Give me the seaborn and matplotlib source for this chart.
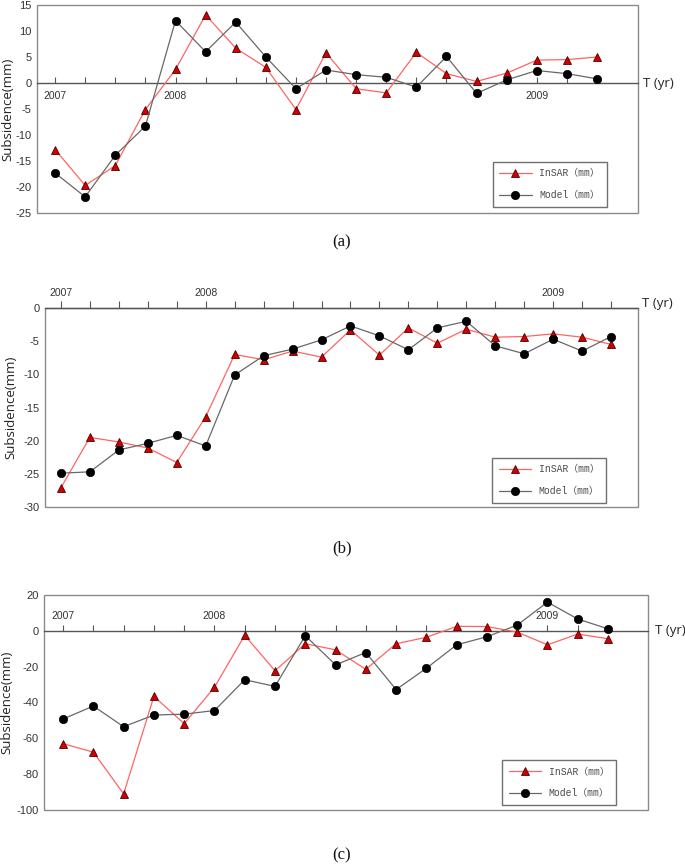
import numpy as np
import pandas as pd
import matplotlib
matplotlib.use("Agg")
import matplotlib.pyplot as plt
from matplotlib.patches import Rectangle
import seaborn as sns

# values, one entry per acquisition
insar_a = [-12.8, -19.7, -15.9, -5.1, 2.6, 13.1, 6.7, 3.0, -5.1, 5.8, -1.1, -1.9, 5.9, 1.8, 0.3, 1.9, 4.4, 4.5, 5.0]
model_a = [-17.3, -21.9, -13.9, -8.3, 12.0, 6.0, 11.7, 5.0, -1.1, 2.5, 1.6, 1.1, -0.8, 5.1, -2.0, 0.6, 2.4, 1.8, 0.8]
years_a = {0: "2007", 4: "2008", 16: "2009"}
yticks_a = [15, 10, 5, 0, -5, -10, -15, -20, -25]

insar_b = [-27.1, -19.5, -20.2, -21.1, -23.3, -16.4, -7.0, -7.8, -6.5, -7.4, -3.3, -7.1, -3.0, -5.3,
           -3.2, -4.4, -4.3, -3.9, -4.4, -5.5]
model_b = [-24.9, -24.7, -21.4, -20.4, -19.2, -20.8, -10.1, -7.2, -6.2, -4.8, -2.7, -4.2, -6.3, -3.0,
           -2.0, -5.7, -6.9, -4.7, -6.5, -4.3]
years_b = {0: "2007", 5: "2008", 17: "2009"}
yticks_b = [0, -5, -10, -15, -20, -25, -30]

insar_c = [-63.0, -67.7, -91.0, -36.6, -51.8, -31.5, -2.5, -22.3, -7.2, -10.6, -21.5, -7.2, -3.6,
           2.5, 2.4, -0.7, -7.8, -1.8, -4.4]
model_c = [-49.2, -42.0, -53.5, -47.0, -46.5, -44.5, -27.3, -31.0, -2.7, -19.0, -12.1, -32.8, -20.9,
           -7.8, -3.3, 3.2, 16.0, 6.6, 1.1]
years_c = {0: "2007", 5: "2008", 16: "2009"}
yticks_c = [20, 0, -20, -40, -60, -80, -100]

legend_labels = ["InSAR（mm）", "Model（mm）"]

sns.set_style("white")
plt.rcParams['font.family'] = ['Liberation Sans', 'DejaVu Sans']

fig = plt.figure(figsize=(6.85, 8.66), dpi=100)
W, H = 685, 866


def add_axes_px(left, top, right, bottom):
    return fig.add_axes([left / W, 1 - bottom / H, (right - left) / W, (bottom - top) / H])


def draw_panel(ax, insar, model, years, yticks, ylim, xlim, mode, leg_anchor, ylab_x, tyr_off):
    idx = np.arange(len(insar))
    df = pd.DataFrame({"t": idx, "insar": insar, "model": model})
    sns.lineplot(data=df, x="t", y="insar", ax=ax, color="#ff6464", linewidth=0.9,
                 marker="^", markersize=5.5, markerfacecolor="#d00000",
                 markeredgecolor="#500000", markeredgewidth=0.6, label=legend_labels[0], zorder=3)
    sns.lineplot(data=df, x="t", y="model", ax=ax, color="#686868", linewidth=0.9,
                 marker="o", markersize=6, markerfacecolor="black",
                 markeredgecolor="black", markeredgewidth=0.5, label=legend_labels[1], zorder=4)
    ax.set_xlim(xlim)
    ax.set_ylim(ylim)
    ax.set_yticks(yticks)
    ax.set_yticklabels([str(v) for v in yticks])
    ax.tick_params(axis="y", left=False, length=0, pad=4, labelsize=8, labelcolor="#333333")
    ax.set_xticks(idx)
    ax.set_xticklabels([years.get(i, "") for i in idx])
    ax.set_xlabel("")

    for s in ax.spines.values():
        s.set_visible(False)
    ax.add_patch(Rectangle((0, 0), 1, 1, transform=ax.transAxes, fill=False,
                           edgecolor="#8a8a8a", lw=1.0, clip_on=False, zorder=1))

    if mode == "a":
        sp = ax.spines["bottom"]
        sp.set_position(("data", 0))
        ax.tick_params(axis="x", bottom=True, top=False, labelbottom=True, labeltop=False,
                       direction="in", length=4, pad=6)
    elif mode == "b":
        sp = ax.spines["top"]
        ax.xaxis.tick_top()
        ax.tick_params(axis="x", top=True, bottom=False, labeltop=True, labelbottom=False,
                       direction="out", length=5, pad=2)
    else:
        sp = ax.spines["top"]
        sp.set_position(("data", 0))
        ax.xaxis.tick_top()
        ax.tick_params(axis="x", top=True, bottom=False, labeltop=True, labelbottom=False,
                       direction="out", length=4, pad=3)
    sp.set_visible(True)
    sp.set_color("#555555")
    sp.set_linewidth(1.0)
    sp.set_zorder(2)
    ax.tick_params(axis="x", width=0.8, color="#555555", labelsize=7.5, labelcolor="#333333")

    ax.set_ylabel("Subsidence(mm)", family=['Open Sans', 'DejaVu Sans'], size=9.5, color="#222222")
    ax.yaxis.set_label_coords(ylab_x, 0.5)

    ax.annotate("T (yr)", xy=(1, 0), xycoords=("axes fraction", "data"), xytext=tyr_off,
                textcoords="offset pixels", ha="left", va="center",
                family=['Open Sans', 'DejaVu Sans'], size=9.5, color="#222222", annotation_clip=False)

    leg = ax.legend(loc="lower right", bbox_to_anchor=leg_anchor, frameon=True, fancybox=False,
                    edgecolor="#707070", framealpha=1,
                    prop={"family": ['Liberation Mono', 'Noto Sans CJK SC'], "size": 7},
                    labelcolor="#4a4a4a", handlelength=3.3, handletextpad=0.8,
                    borderpad=0.7, labelspacing=1.2, borderaxespad=0)
    leg.get_frame().set_linewidth(1.0)


ax_a = add_axes_px(37, 5, 638, 213)
draw_panel(ax_a, insar_a, model_a, years_a, yticks_a, (-25, 15), (-0.6, 19.36), "a",
           (0.948, 0.029), -0.037, (5, 0))

ax_b = add_axes_px(45, 308, 638, 507)
draw_panel(ax_b, insar_b, model_b, years_b, yticks_b, (-30, 0), (-0.55, 19.93), "b",
           (0.946, 0.02), -0.046, (4, 4))

ax_c = add_axes_px(44, 595, 648, 810)
draw_panel(ax_c, insar_c, model_c, years_c, yticks_c, (-100, 20), (-0.63, 19.32), "c",
           (0.947, 0.023), -0.05, (7, 0))

for lab, ypx in [("(a)", 242), ("(b)", 548), ("(c)", 855)]:
    fig.text(342 / W, 1 - ypx / H, lab, ha="center", va="center",
             family=['Liberation Serif', 'DejaVu Serif'], size=12, color="#111111")

fig.savefig("out.png", dpi=100)
